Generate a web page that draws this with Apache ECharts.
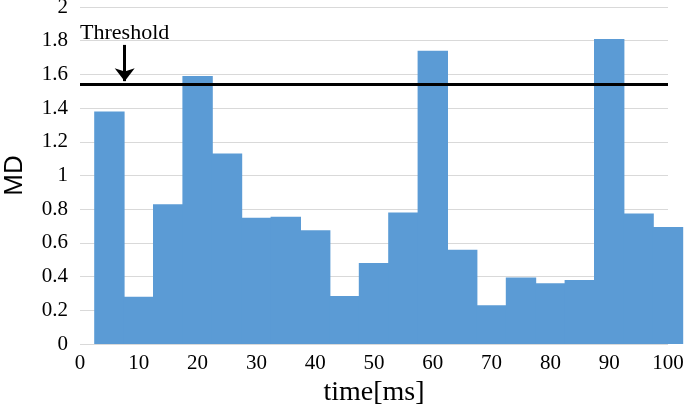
<!DOCTYPE html>
<html>
<head>
<meta charset="utf-8">
<script src="https://cdn.jsdelivr.net/npm/echarts@6/dist/echarts.min.js"></script>
<style>
  html, body { margin: 0; padding: 0; background: #fff; }
  #chart { width: 685px; height: 410px; }
</style>
</head>
<body>
<div id="chart"></div>
<script>
// time at bar centre (ms) and MD value per bin
const times = [5, 10, 15, 20, 25, 30, 35, 40, 45, 50, 55, 60, 65, 70, 75, 80, 85, 90, 95, 100];
const mdValues = [1.38, 0.28, 0.83, 1.59, 1.13, 0.75, 0.755, 0.675, 0.285, 0.48,
                  0.78, 1.74, 0.56, 0.23, 0.395, 0.36, 0.38, 1.81, 0.775, 0.695];
const threshold = 1.54;
const arrowAt = { time: 7.6, from: 1.775, to: 1.56 };

const serif = '"Liberation Serif", "Times New Roman", serif';
const gridLeft = 80, gridRight = 17;
const binWidth = 5;

const chart = echarts.init(document.getElementById('chart'));
const plotWidth = 685 - gridLeft - gridRight;

chart.setOption({
  animation: false,
  grid: { left: gridLeft, right: gridRight, top: 7, bottom: 66, containLabel: false, outerBoundsMode: 'none' },
  xAxis: {
    type: 'value',
    min: 0,
    max: 100,
    interval: 10,
    name: 'time[ms]',
    nameLocation: 'middle',
    nameGap: 32,
    nameTextStyle: { fontFamily: serif, fontSize: 28, color: '#000' },
    axisLine: { show: false },
    axisTick: { show: false },
    splitLine: { show: false },
    axisLabel: { fontFamily: serif, fontSize: 21, color: '#000', margin: 9 }
  },
  yAxis: {
    type: 'value',
    min: 0,
    max: 2,
    interval: 0.2,
    name: 'MD',
    nameLocation: 'middle',
    nameGap: 52,
    nameRotate: 90,
    nameMoveOverlap: false,
    nameTextStyle: { fontFamily: '"Liberation Sans", Arial, sans-serif', fontSize: 26, color: '#000' },
    axisLine: { show: false },
    axisTick: { show: false },
    splitLine: { lineStyle: { color: '#d9d9d9', width: 1 } },
    axisLabel: { fontFamily: serif, fontSize: 21, color: '#000', margin: 12 }
  },
  series: [{
    type: 'bar',
    data: times.map((t, i) => [t, mdValues[i]]),
    // one extra pixel so neighbouring bins touch without seams
    barWidth: plotWidth * binWidth / 100 + 1,
    itemStyle: { color: '#5b9bd5' },
    clip: true,
    markLine: {
      silent: true,
      symbol: 'none',
      animation: false,
      data: [
        [
          { coord: [0, threshold], lineStyle: { color: '#000', width: 3, type: 'solid' }, label: { show: false } },
          { coord: [100, threshold] }
        ],
        [
          {
            coord: [arrowAt.time, arrowAt.from],
            symbol: 'none',
            lineStyle: { color: '#000', width: 3, type: 'solid' },
            label: {
              show: true,
              position: 'start',
              formatter: 'Threshold',
              fontFamily: serif,
              fontSize: 22,
              color: '#000',
              distance: 1
            }
          },
          { coord: [arrowAt.time, arrowAt.to], symbol: 'arrow', symbolSize: [15, 13] }
        ]
      ]
    }
  }]
});
</script>
</body>
</html>
